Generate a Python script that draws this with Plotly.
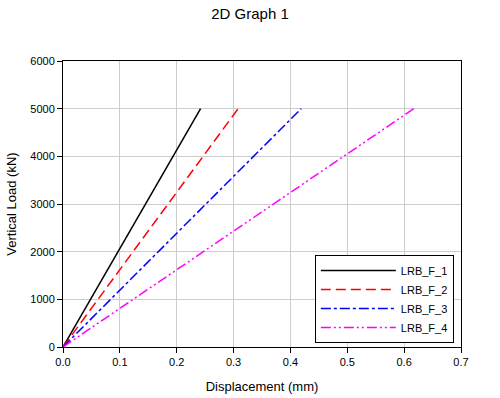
import plotly.graph_objects as go

names = ["LRB_F_1", "LRB_F_2", "LRB_F_3", "LRB_F_4"]
disp_end = [0.242, 0.308, 0.419, 0.617]
load_end = [5000, 5000, 5000, 5000]
colors = ["black", "red", "blue", "magenta"]
dashes = ["solid", "10px,5px", "10px,3px,3px,3px", "10px,3px,2px,3px,2px,3px"]

fig = go.Figure()
for n, d, l, c, ds in zip(names, disp_end, load_end, colors, dashes):
    fig.add_trace(go.Scatter(x=[0, d], y=[0, l], mode="lines", name=n,
                             line=dict(color=c, width=1.5, dash=ds)))

axis_common = dict(showline=True, linecolor="black", linewidth=1, mirror=True,
                   ticks="outside", ticklen=5, tickcolor="black", automargin=False,
                   showgrid=True, gridcolor="#cccccc", gridwidth=1, zeroline=False,
                   tickfont=dict(family="Liberation Sans, Arial", size=11, color="black"))

fig.update_layout(
    width=500, height=398,
    margin=dict(l=63, r=39, t=61, b=51, autoexpand=False),
    paper_bgcolor="white", plot_bgcolor="white",
    title=dict(text="2D Graph 1", x=0.5, xanchor="center", yref="container", y=0.965, yanchor="middle",
               font=dict(family="Liberation Sans, Arial", size=15, color="black")),
    xaxis=dict(range=[0, 0.7], dtick=0.1, tickformat=".1f",
               title=dict(text="Displacement (mm)", font=dict(family="Liberation Sans, Arial", size=13, color="black"), standoff=14),
               **axis_common),
    yaxis=dict(range=[0, 6000], dtick=1000,
               title=dict(text="Vertical Load (kN)", font=dict(family="Liberation Sans, Arial", size=13, color="black"), standoff=10),
               **axis_common),
    legend=dict(x=0.982, xanchor="right", y=0.014, yanchor="bottom",
                bgcolor="white", bordercolor="black", borderwidth=1,
                itemwidth=75, tracegroupgap=0,
                font=dict(family="Liberation Sans, Arial", size=11, color="black")),
    showlegend=True,
)

fig.write_html("out.html", config={"displayModeBar": False},
               post_script="document.body.style.margin='0';")
